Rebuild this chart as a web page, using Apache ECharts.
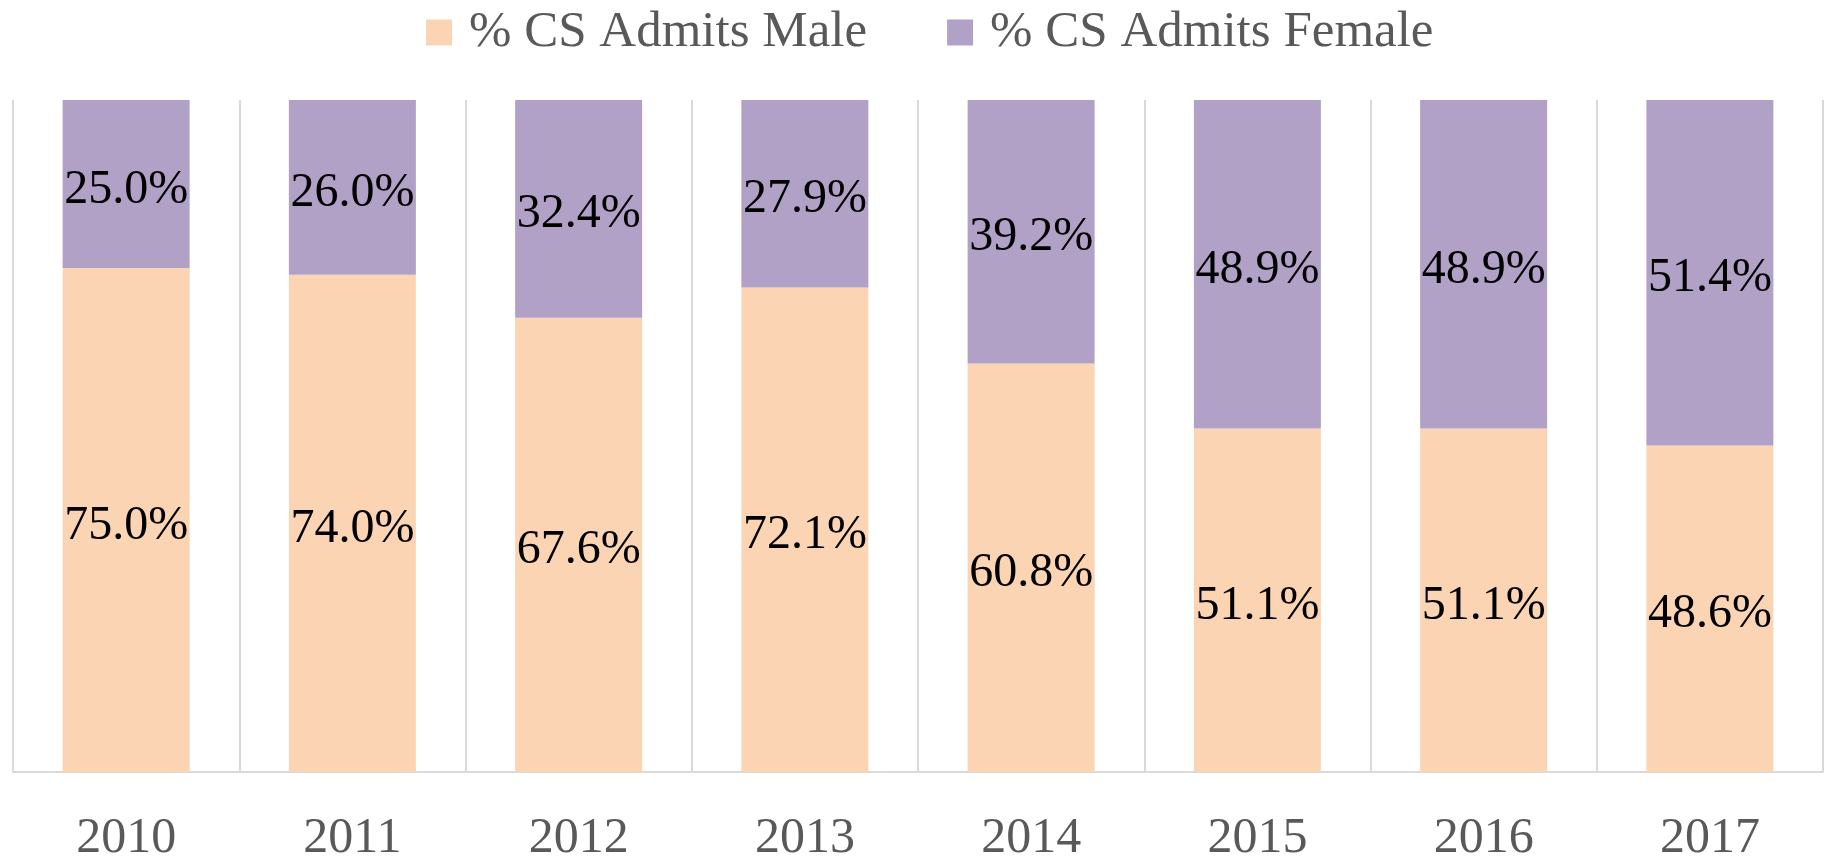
<!DOCTYPE html>
<html>
<head>
<meta charset="utf-8">
<script src="https://cdn.jsdelivr.net/npm/echarts@6/dist/echarts.min.js"></script>
<style>
  html, body { margin: 0; padding: 0; background: #fff; }
  #mychart { width: 1827px; height: 864px; }
</style>
</head>
<body>
<div id="mychart"></div>
<script>
// data
var years = ['2010', '2011', '2012', '2013', '2014', '2015', '2016', '2017'];
var maleData = [75.0, 74.0, 67.6, 72.1, 60.8, 51.1, 51.1, 48.6];
var femaleData = [25.0, 26.0, 32.4, 27.9, 39.2, 48.9, 48.9, 51.4];

var fontName = '"Liberation Serif", "DejaVu Serif", serif';
var gridColor = '#d9d9d9';

var myChart = echarts.init(document.getElementById('mychart'));

function pctLabel(p) {
  return p.value.toFixed(1) + '%';
}

var option = {
  animation: false,
  legend: {
    data: ['% CS Admits Male', '% CS Admits Female'],
    top: 2,
    left: 421,
    itemWidth: 26,
    itemHeight: 26,
    itemGap: 80,
    icon: 'rect',
    textStyle: { fontFamily: fontName, fontSize: 51, color: '#595959', padding: [0, 0, 0, 12] }
  },
  grid: { left: 13, right: 4, top: 100, bottom: 82, containLabel: false },
  xAxis: {
    type: 'category',
    data: years,
    axisLine: { show: true, lineStyle: { color: gridColor, width: 2 } },
    axisTick: { show: false },
    splitLine: { show: true, lineStyle: { color: gridColor, width: 2 } },
    axisLabel: { fontFamily: fontName, fontSize: 50, color: '#595959', margin: 42 }
  },
  yAxis: {
    type: 'value',
    min: 0,
    max: 100,
    show: false,
    splitLine: { show: false }
  },
  series: [
    {
      name: '% CS Admits Male',
      type: 'bar',
      stack: 'total',
      barWidth: 127,
      itemStyle: { color: '#fbd4b4' },
      label: { show: true, position: 'inside', offset: [0, 6], formatter: pctLabel, fontFamily: fontName, fontSize: 48, color: '#000' },
      data: maleData
    },
    {
      name: '% CS Admits Female',
      type: 'bar',
      stack: 'total',
      barWidth: 127,
      itemStyle: { color: '#b2a1c7' },
      label: { show: true, position: 'inside', offset: [0, 6], formatter: pctLabel, fontFamily: fontName, fontSize: 48, color: '#000' },
      data: femaleData
    }
  ]
};

myChart.setOption(option);
</script>
</body>
</html>
